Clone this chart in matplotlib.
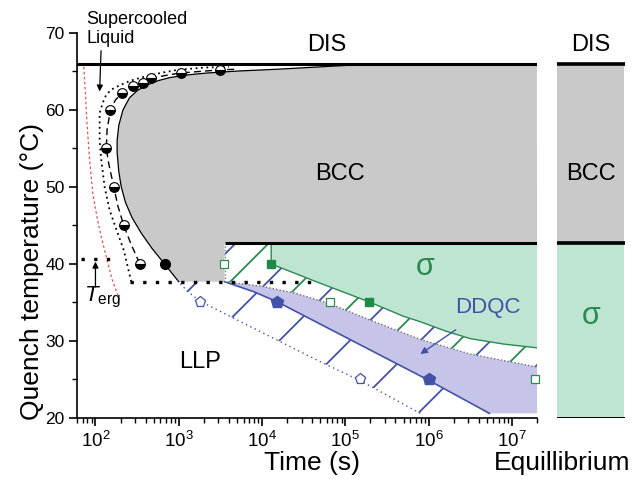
import matplotlib
matplotlib.use('Agg')
import matplotlib.pyplot as plt
from matplotlib.patches import Polygon
import numpy as np

plt.rcParams['font.family'] = 'Liberation Sans'
plt.rcParams['mathtext.fontset'] = 'custom'
plt.rcParams['mathtext.rm'] = 'Liberation Sans'
plt.rcParams['mathtext.it'] = 'Liberation Sans:italic'

# phase boundaries (temperature, degC)
dis_T = 66.0
sigma_T = 42.7
llp_T = 37.7
terg_T = 40.6

# BCC C-curve (log10 time, T), top right round the nose to the LLP line
bcc_logt = [7.30, 6.0, 5.6, 5.2, 4.7, 4.2, 3.7, 3.34, 3.1, 2.89, 2.75, 2.61,
            2.5, 2.41, 2.33, 2.28, 2.26, 2.26, 2.28, 2.31, 2.36, 2.44, 2.55,
            2.68, 2.83, 2.94, 3.0]
bcc_T = [66.0, 66.0, 66.0, 65.9, 65.6, 65.3, 65.05, 64.8, 64.55, 64.2, 63.8,
         63.2, 62.5, 61.6, 60.0, 58.0, 56.0, 54.5, 52.0, 50.0, 48.0, 46.0,
         44.0, 42.0, 40.0, 38.5, 37.7]

# BCC onset (half-filled circles) and the dashed guide through them
onset_t = [339, 219, 166, 135, 151, 209, 282, 372, 468, 1050, 3100]
onset_T = [40, 45, 50, 55, 60, 62.2, 63.1, 63.5, 64.1, 64.8, 65.2]
dash_logt = [2.53, 2.43, 2.34, 2.27, 2.22, 2.16, 2.13, 2.14, 2.18, 2.24, 2.32,
             2.45, 2.57, 2.67, 2.85, 3.02, 3.25, 3.49, 3.7]
dash_T = [40.1, 42.5, 45, 47.5, 50, 53, 55, 57.5, 60, 61.3, 62.2, 63.1, 63.6,
          64.1, 64.5, 64.8, 65.0, 65.2, 65.3]
bcc_done_t = [690]
bcc_done_T = [40]

# supercooled liquid limit (dotted) and ergodicity limit (red)
liq_logt = [2.43, 2.34, 2.25, 2.17, 2.11, 2.07, 2.05, 2.05, 2.09, 2.13, 2.2,
            2.29, 2.42, 2.58, 2.78, 2.98, 3.3, 3.6]
liq_T = [37.7, 41.8, 44.5, 47, 50, 53.5, 56, 59.6, 61, 62, 62.7, 63.2, 63.8,
         64.3, 64.8, 65.2, 65.5, 65.6]
erg_logt = [1.86, 1.88, 1.90, 1.93, 1.97, 2.02, 2.07, 2.14, 2.2, 2.29]
erg_T = [65.6, 62, 58, 53.5, 49, 46, 43.5, 40.5, 38, 35.3]

# sigma region lower edge
sig_logt = [4.11, 4.11, 4.65, 5.28, 5.7, 5.9, 6.2, 6.5, 6.9, 7.31]
sig_T = [42.7, 40.0, 37.7, 35.1, 33.2, 32.5, 31.3, 30.3, 29.6, 29.1]

# DDQC band: upper (dotted) and lower (solid) edges, DDQC onset (dotted blue)
ddqc_top_logt = [3.55, 4.0, 4.4, 4.82, 5.3, 5.9, 6.5, 7.31]
ddqc_top_T = [37.7, 37.1, 36.2, 34.8, 32.7, 30.2, 28.3, 26.6]
ddqc_bot_logt = [3.55, 3.9, 4.18, 6.0, 6.73]
ddqc_bot_T = [37.7, 36.4, 35.1, 24.9, 20.6]
ddqc_on_logt = [2.98, 3.1, 3.25, 4.0, 4.7, 5.17, 5.9]
ddqc_on_T = [37.9, 36.5, 35.2, 31.1, 27.3, 24.9, 20.6]
floor_T = 20.6

# measured points
sig_open_t = [3470, 64600, 1.9e7]
sig_open_T = [40, 35, 25]
sig_full_t = [12900, 190000]
sig_full_T = [40, 35]
ddqc_full_t = [15100, 1.0e6]
ddqc_full_T = [35, 25]
ddqc_open_t = [1780, 148000]
ddqc_open_T = [35, 25]

t_min, t_max = 60, 2e7

gray = '#c9c9c9'
mint = '#bee5d2'
lav = '#c6c4e8'
green = '#2a8a50'
blue = '#4352a8'


def lt(v):
    return 10 ** np.asarray(v, dtype=float)


def diagonal_hatch(ax, clip, start, step, color, lw=1.3):
    # 45 degree lines in screen space, clipped to a region
    fig = ax.figure
    bb = ax.get_position()
    w = bb.width * fig.get_figwidth() * fig.dpi
    h = bb.height * fig.get_figheight() * fig.dpi
    for c in np.arange(start - step * 8, w, step):
        ln, = ax.plot([c / w, (c + h) / w], [0, 1], transform=ax.transAxes,
                      color=color, lw=lw, zorder=1)
        ln.set_clip_path(clip)


fig = plt.figure(figsize=(6.32, 4.84), dpi=100)
ax = fig.add_axes([0.1218, 0.1364, 0.7279, 0.7955])
ax_eq = fig.add_axes([0.8813, 0.1364, 0.1076, 0.7955])

ax.set_xscale('log')
ax.set_xlim(t_min, t_max)
ax.set_ylim(20, 70)

# hatched regions underneath the fills
blue_clip = Polygon(np.column_stack([
    np.r_[lt(ddqc_on_logt), t_max, t_max, 10 ** 3.55, 10 ** 3.55, 10 ** 2.98],
    np.r_[ddqc_on_T, floor_T, sigma_T, sigma_T, llp_T, llp_T]]),
    transform=ax.transData, facecolor='none', edgecolor='none')
ax.add_patch(blue_clip)
diagonal_hatch(ax, blue_clip, -16, 70.5, blue)

green_clip = Polygon(np.column_stack([
    np.r_[lt(ddqc_top_logt), t_max, 10 ** 3.55],
    np.r_[ddqc_top_T, sigma_T, sigma_T]]),
    transform=ax.transData, facecolor='none', edgecolor='none')
ax.add_patch(green_clip)
diagonal_hatch(ax, green_clip, 17, 72, green)

# DDQC band
ax.fill(np.r_[lt(ddqc_top_logt), t_max, lt(ddqc_bot_logt)[::-1]],
        np.r_[ddqc_top_T, floor_T, ddqc_bot_T[::-1]],
        facecolor=lav, edgecolor='none', zorder=2)
# sigma region
ax.fill(np.r_[lt(sig_logt), t_max],
        np.r_[sig_T, sigma_T],
        facecolor=mint, edgecolor='none', zorder=2)
# BCC region
ax.fill(np.r_[lt(bcc_logt), 10 ** 3.55, 10 ** 3.55, t_max],
        np.r_[bcc_T, llp_T, sigma_T, sigma_T],
        facecolor=gray, edgecolor='none', zorder=2)

# boundaries
ax.plot(lt(bcc_logt), bcc_T, color='k', lw=0.9, zorder=3)
ax.plot(lt(dash_logt), dash_T, color='k', lw=1.0, ls=(0, (5, 3)), zorder=3)
ax.plot(lt(liq_logt), liq_T, color='k', lw=1.3, ls=(0, (1, 2)), zorder=3)
ax.plot(lt(erg_logt), erg_T, color='#e0504a', lw=0.9, ls=(0, (2, 2)), zorder=3)
ax.plot(lt(sig_logt), sig_T, color=green, lw=1.0, zorder=3)
ax.plot(lt(ddqc_top_logt), ddqc_top_T, color='#707070', lw=1.0,
        ls=(0, (1, 1.5)), zorder=3)
ax.plot(lt(ddqc_bot_logt), ddqc_bot_T, color=blue, lw=1.2, zorder=3)
ax.plot(lt(ddqc_on_logt), ddqc_on_T, color=blue, lw=1.0,
        ls=(0, (1, 2.5)), zorder=3)

ax.axhline(dis_T, color='k', lw=2.2, zorder=3)
ax.hlines(sigma_T, 10 ** 3.55, t_max, color='k', lw=2.2, zorder=3)
ax.hlines(llp_T, 10 ** 2.41, 10 ** 4.65, color='k', lw=2.4,
          ls=(0, (1, 2.8)), zorder=3)
ax.vlines(10 ** 3.55, llp_T, sigma_T, color='#6a9a80', lw=1.0,
          ls=(0, (1, 1.5)), zorder=3)
ax.hlines(terg_T, 10 ** 1.83, 10 ** 2.22, color='k', lw=2.4,
          ls=(0, (1, 2.8)), zorder=3)

# data points
ax.plot(onset_t, onset_T, 'o', ms=7, color='k', mfc='k', mfcalt='white',
        fillstyle='bottom', mec='k', mew=0.8, zorder=5)
ax.plot(bcc_done_t, bcc_done_T, 'o', ms=7, color='k', zorder=5)
ax.plot(sig_open_t, sig_open_T, 's', ms=6, mfc='white', mec=green, mew=0.9,
        zorder=5, clip_on=False)
ax.plot(sig_full_t, sig_full_T, 's', ms=6, color='#1e8a46', zorder=5)
ax.plot(ddqc_full_t, ddqc_full_T, 'p', ms=9, color=blue, zorder=5)
ax.plot(ddqc_open_t, ddqc_open_T, 'p', ms=8, mfc='white', mec=blue, mew=0.9,
        zorder=5)

# phase labels
ax.text(10 ** 4.78, 68.4, 'DIS', fontsize=17, ha='center', va='center')
ax.text(10 ** 4.93, 51.7, 'BCC', fontsize=17, ha='center', va='center', zorder=6)
ax.text(10 ** 3.25, 27.3, 'LLP', fontsize=17, ha='center', va='center')
ax.text(10 ** 5.96, 39.6, 'σ', fontsize=22, color=green, ha='center',
        va='center', zorder=6)
ax.annotate('DDQC', xy=(10 ** 5.9, 28.3), xytext=(10 ** 6.71, 34.3),
            fontsize=16, color=blue, ha='center', va='center', zorder=6,
            arrowprops=dict(arrowstyle='-|>', color=blue, lw=1.0,
                            mutation_scale=10, shrinkA=11, shrinkB=0))
ax.annotate('Supercooled\nLiquid', xy=(10 ** 2.05, 62.4),
            xytext=(77, 72.9), fontsize=13, ha='left', va='top',
            linespacing=1.15, annotation_clip=False,
            arrowprops=dict(arrowstyle='-|>', color='k', lw=0.9,
                            mutation_scale=9, shrinkA=1, shrinkB=0,
                            relpos=(0.15, 0.0)))
ax.annotate('', xy=(100, 40.3), xytext=(100, 37.0),
            arrowprops=dict(arrowstyle='-|>', color='k', lw=0.9,
                            mutation_scale=9, shrinkA=0, shrinkB=0))
ax.text(10 ** 1.865, 35.6, r'$T_{\mathrm{erg}}$', fontsize=16,
        ha='left', va='center')

# axes styling
for side in ('top', 'right'):
    ax.spines[side].set_visible(False)
for side in ('left', 'bottom'):
    ax.spines[side].set_linewidth(1.2)
ax.set_yticks(np.arange(20, 71, 10))
ax.set_yticks(np.arange(25, 70, 10), minor=True)
ax.tick_params(which='major', direction='out', length=6, width=1.2, pad=3)
ax.tick_params(which='minor', direction='out', length=3.5, width=1.0)
ax.tick_params(axis='y', labelsize=12.5)
ax.tick_params(axis='x', labelsize=13.5)
ax.set_xlabel('Time (s)', fontsize=19)
ax.xaxis.set_label_coords(0.51, -0.085)
ax.set_ylabel('Quench temperature (°C)', fontsize=19)
ax.yaxis.set_label_coords(-0.072, 0.38)

# equilibrium column
ax_eq.set_xlim(0, 1)
ax_eq.set_ylim(20, 70)
ax_eq.axis('off')
ax_eq.fill_between([0, 0.985], sigma_T, dis_T, color=gray, lw=0)
ax_eq.fill_between([0, 0.985], 20, sigma_T, color=mint, lw=0)
ax_eq.hlines([dis_T, sigma_T], 0, 1, color='k', lw=2.6)
ax_eq.hlines(20, 0, 1, color='k', lw=1.4)
ax_eq.text(0.5, 68.4, 'DIS', fontsize=17, ha='center', va='center')
ax_eq.text(0.5, 51.7, 'BCC', fontsize=17, ha='center', va='center')
ax_eq.text(0.5, 33.3, 'σ', fontsize=22, color=green, ha='center', va='center')
fig.text(0.997, 0.068, 'Equillibrium', fontsize=19, ha='right', va='top')

fig.savefig('out.png', dpi=100)
